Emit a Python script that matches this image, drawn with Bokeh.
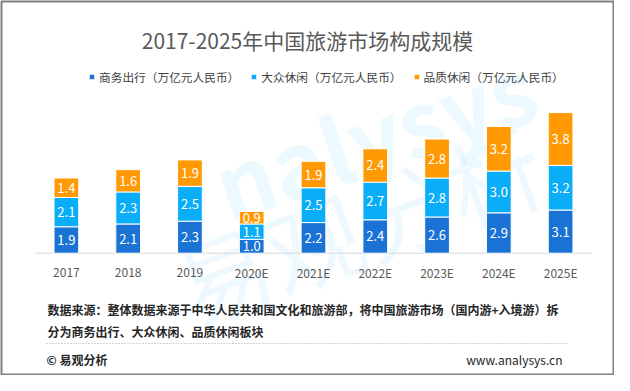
from bokeh.plotting import figure
from bokeh.models import (ColumnDataSource, Label, Legend, LegendItem, FactorRange,
                          Range1d, Arrow)
from bokeh.transform import dodge
from bokeh.embed import file_html
from bokeh.resources import INLINE
from bokeh.core.properties import value

# ---------------- data ----------------
years = ["2017", "2018", "2019", "2020E", "2021E", "2022E", "2023E", "2024E", "2025E"]
business = [1.9, 2.1, 2.3, 1.0, 2.2, 2.4, 2.6, 2.9, 3.1]
mass = [2.1, 2.3, 2.5, 1.1, 2.5, 2.7, 2.8, 3.0, 3.2]
quality = [1.4, 1.6, 1.9, 0.9, 1.9, 2.4, 2.8, 3.2, 3.8]
series_names = ["商务出行（万亿元人民币）", "大众休闲（万亿元人民币）", "品质休闲（万亿元人民币）"]
title_text = "2017-2025年中国旅游市场构成规模"
note_line1 = "数据来源：整体数据来源于中华人民共和国文化和旅游部，将中国旅游市场（国内游+入境游）拆"
note_line2 = "分为商务出行、大众休闲、品质休闲板块"
brand_text = "© 易观分析"
site_text = "www.analysys.cn"
watermark_en = "nalysys"
watermark_cn = "易观分析"

colors = ["#1a73d4", "#0aadf8", "#ff9a05"]
FONT = "Noto Sans CJK SC"
SHIFT = 0.097  # horizontal placement of the category band inside the frame

# ---------------- figure ----------------
W, H = 614, 375
p = figure(x_range=FactorRange(factors=years, range_padding=0.1007),
           y_range=Range1d(-8.714, 18.08),
           width=W, height=H, output_backend="svg", toolbar_location=None,
           x_axis_location=None, y_axis_location=None,
           min_border_left=1, min_border_right=1, min_border_top=1, min_border_bottom=1)
p.outline_line_color = "#808080"
p.outline_line_width = 2
p.xgrid.grid_line_color = None
p.ygrid.grid_line_color = None
p.background_fill_color = "white"
p.border_fill_color = "white"

keys = ["business", "mass", "quality"]
src = ColumnDataSource(dict(year=years, business=business, mass=mass, quality=quality,
                            zero=[0] * len(years)))
xpos = dodge("year", SHIFT, range=p.x_range)

# watermark (faint)
p.add_layout(Label(x=215, y=189, x_units="screen", y_units="screen", text=watermark_en,
                   text_font=FONT, text_font_size="90px", text_font_style="bold",
                   text_baseline="alphabetic",
                   text_color="#0aadf8", text_alpha=0.08, angle=0.32, level="underlay"))
p.add_layout(Label(x=200, y=20, x_units="screen", y_units="screen", text=watermark_cn,
                   text_font=FONT, text_font_size="96px",
                   text_color="#0aadf8", text_alpha=0.07, angle=0.35, level="underlay"))

# category axis line and labels
p.segment(x0=[(years[0], -0.5 + SHIFT)], y0=[0], x1=[(years[-1], 0.5 + SHIFT)], y1=[0],
          line_color="#d9d9d9", line_width=1)
p.text(x=xpos, y="zero", text="year", source=src, y_offset=19,
       text_align="center", text_baseline="middle", text_color="#595959",
       text_font=value(FONT), text_font_size="12px")

renderers = p.vbar_stack(keys, x=xpos, width=0.4, source=src,
                         fill_color=colors, line_color="white", line_width=1)

# value labels
lx, ly, lt = [], [], []
for i, y in enumerate(years):
    base = 0.0
    for arr in (business, mass, quality):
        v = arr[i]
        lx.append(y)
        ly.append(base + v / 2)
        lt.append(f"{v:.1f}")
        base += v
lsrc = ColumnDataSource(dict(x=lx, y=ly, t=lt))
p.text(x=dodge("x", SHIFT, range=p.x_range), y="y", text="t", source=lsrc,
       text_align="center", text_baseline="middle",
       text_color="white", text_font=value(FONT), text_font_size="13px")

# legend
legend = Legend(items=[LegendItem(label=n, renderers=[r]) for n, r in zip(series_names, renderers)],
                location=(87, 289), orientation="horizontal",
                label_text_font=FONT, label_text_font_size="11.7px", label_text_color="#404040",
                glyph_width=7, glyph_height=7, label_standoff=4, spacing=11,
                padding=0, margin=0, border_line_color=None, background_fill_alpha=0)
p.add_layout(legend)

# title
p.add_layout(Label(x=306, y=335, x_units="screen", y_units="screen", text=title_text,
                   text_font=FONT, text_font_size="21px", text_color="#595959",
                   text_align="center", text_baseline="middle"))

# footer
p.add_layout(Label(x=46, y=65, x_units="screen", y_units="screen", text=note_line1,
                   text_font=FONT, text_font_size="12px", text_font_style="bold",
                   text_color="#262626", text_baseline="middle"))
p.add_layout(Label(x=46, y=43, x_units="screen", y_units="screen", text=note_line2,
                   text_font=FONT, text_font_size="12px", text_font_style="bold",
                   text_color="#262626", text_baseline="middle"))
p.add_layout(Arrow(end=None, x_start=45, y_start=31, x_end=565, y_end=31,
                   start_units="screen", end_units="screen",
                   line_color="#a6a6a6", line_width=1, line_dash="1 2"))
p.add_layout(Label(x=45, y=15, x_units="screen", y_units="screen", text=brand_text,
                   text_font=FONT, text_font_size="12px", text_font_style="bold",
                   text_color="#262626", text_baseline="middle"))
p.add_layout(Label(x=561, y=15, x_units="screen", y_units="screen", text=site_text,
                   text_font=FONT, text_font_size="12px",
                   text_color="#262626", text_align="right", text_baseline="middle"))

open("out.html", "w").write(file_html(p, INLINE))
